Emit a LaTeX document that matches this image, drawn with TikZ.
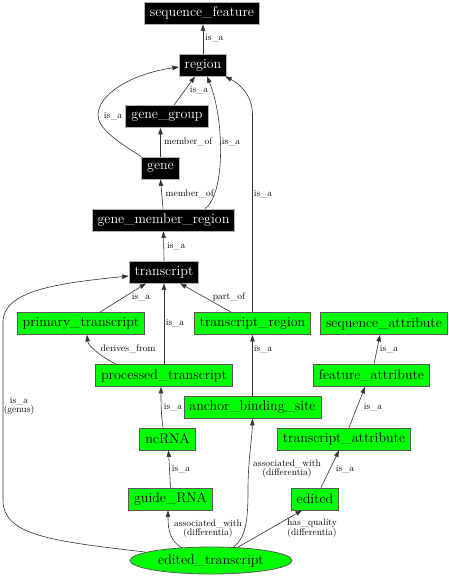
\documentclass[tikz,border=0pt]{standalone}
\usetikzlibrary{arrows.meta,shapes.geometric}
\definecolor{gvgreen}{RGB}{0,255,0}
\begin{document}
\begin{tikzpicture}[x=1pt,y=-1pt,
  blackbox/.style={fill=black,text=white,draw=gray!60,line width=0.8pt,minimum height=22pt,inner xsep=5.5pt,inner ysep=0pt,font=\fontsize{14}{16}\selectfont},
  greenbox/.style={fill=gvgreen,text=black,draw=black!65,line width=0.8pt,minimum height=22pt,inner xsep=5.5pt,inner ysep=0pt,font=\fontsize{14}{16}\selectfont},
  greenell/.style={ellipse,fill=gvgreen,draw=black!65,line width=0.8pt,minimum width=162pt,minimum height=27pt,inner sep=0pt,font=\fontsize{14}{16}\selectfont},
  rel/.style={draw=black!80,line width=0.6pt,-{Triangle[length=6.5pt,width=4.5pt]}},
  lbl/.style={inner sep=0pt,align=center,font=\fontsize{9.5}{9}\selectfont}]
\useasboundingbox (0,0) rectangle (449,576);

% nodes
\node[blackbox] (sf) at (202,13) {sequence\_feature};
\node[blackbox] (region) at (203,65) {region};
\node[blackbox] (gg) at (167,116.5) {gene\_group};
\node[blackbox] (gene) at (160.5,168) {gene};
\node[blackbox] (gmr) at (163.5,220) {gene\_member\_region};
\node[blackbox] (tr) at (164,272) {transcript};
\node[greenbox] (pt) at (81,323.5) {primary\_transcript};
\node[greenbox] (treg) at (252.5,323.5) {transcript\_region};
\node[greenbox] (sa) at (384,323.5) {sequence\_attribute};
\node[greenbox] (prt) at (164,375.5) {processed\_transcript};
\node[greenbox] (fa) at (371.5,375.5) {feature\_attribute};
\node[greenbox] (abs) at (252.5,407.5) {anchor\_binding\_site};
\node[greenbox] (nc) at (167.5,439) {ncRNA};
\node[greenbox] (ta) at (344,439) {transcript\_attribute};
\node[greenbox] (grna) at (170.5,499) {guide\_RNA};
\node[greenbox] (ed) at (315,499) {edited};
\node[greenell] (et) at (211,560.5) {edited\_transcript};

% edges
\draw[rel] (region.north) -- (region.north |- sf.south);
\node[lbl,anchor=west] (l1) at (205,38) {is\_a};

\draw[rel] ([shift={(7,0)}]gg.north) -- ([shift={(-8,0)}]region.south);
\node[lbl] (l2) at (199,90) {is\_a};

\draw[rel] (gene.north west) .. controls (115,140) and (98,128) .. (98,115) .. controls (98,95) and (130,74) .. ([shift={(0,2)}]region.west);
\node[lbl] (l3) at (113,116.5) {is\_a};

\draw[rel] (gene.north) -- (gene.north |- gg.south);
\node[lbl,anchor=west] (l4) at (164,142) {member\_of};

\draw[rel] ([shift={(-0.5,0)}]gmr.north) -- (gene.south);
\node[lbl,anchor=west] (l5) at (165.5,194) {member\_of};

\draw[rel] ([shift={(41.5,0)}]gmr.north) .. controls (225,195) and (225,120) .. ([shift={(4,0)}]region.south);
\node[lbl] (l6) at (231,142) {is\_a};

\draw[rel] (tr.north) -- (gmr.south);
\node[lbl,anchor=west] (l7) at (167,246) {is\_a};

\draw[rel] (treg.north) -- ([shift={(0,-198)}]treg.north) .. controls (252,95) and (240,84) .. ([shift={(-2,0)}]region.south east);
\node[lbl] (l8) at (263,194) {is\_a};

\draw[rel] ([shift={(19,0)}]pt.north) -- ([shift={(-18,0)}]tr.south);
\node[lbl] (l9) at (141,297) {is\_a};

\draw[rel] (prt.north) -- (tr.south);
\node[lbl] (l10) at (175,323) {is\_a};

\draw[rel] ([shift={(-21.5,0)}]treg.north) -- ([shift={(16,0)}]tr.south);
\node[lbl] (l11) at (229,297) {part\_of};

\draw[rel] ([shift={(-66,-8.5)}]et.center) .. controls (50,541) and (3,535) .. (3,500) -- (3,322) .. controls (3,290) and (60,283) .. ([shift={(0,4)}]tr.west);
\node[lbl] (l12) at (19,406) {is\_a\\(genus)};

\draw[rel] ([shift={(-48,0)}]prt.north) .. controls (98,355) and (88,345) .. ([shift={(6,0)}]pt.south);
\node[lbl] (l13) at (128,349) {derives\_from};

\draw[rel] (abs.north) -- (treg.south);
\node[lbl] (l14) at (263,349) {is\_a};

\draw[rel] ([shift={(2.5,0)}]fa.north) -- ([shift={(-4,0)}]sa.south);
\node[lbl] (l15) at (389,349) {is\_a};

\draw[rel] ([shift={(5,0)}]ta.north) -- ([shift={(-6.5,0)}]fa.south);
\node[lbl] (l16) at (373,407) {is\_a};

\draw[rel] ([shift={(-4.5,0)}]nc.north) .. controls (161,415) and (161,400) .. ([shift={(-3,0)}]prt.south);
\node[lbl] (l17) at (173,407) {is\_a};

\draw[rel] (grna.north) -- ([shift={(1,0)}]nc.south);
\node[lbl] (l18) at (181,469) {is\_a};

\draw[rel] ([shift={(6,0)}]ed.north) -- ([shift={(-5,0)}]ta.south);
\node[lbl] (l19) at (345,469) {is\_a};

\draw[rel] ([shift={(-29,-12.6)}]et.center) .. controls (170,541) and (168,530) .. ([shift={(-2.5,0)}]grna.south);
\node[lbl] (l20) at (208,528.5) {associated\_with\\(differentia)};

\draw[rel] ([shift={(22,-13)}]et.center) .. controls (246,538) and (248,520) .. (248,490) .. controls (248,460) and (252,440) .. (abs.south);
\node[lbl] (l21) at (287,468.5) {associated\_with\\(differentia)};

\draw[rel] ([shift={(26,-12.8)}]et.center) -- ([shift={(-13,0)}]ed.south);
\node[lbl] (l22) at (312,528.5) {has\_quality\\(differentia)};
\end{tikzpicture}
\end{document}
